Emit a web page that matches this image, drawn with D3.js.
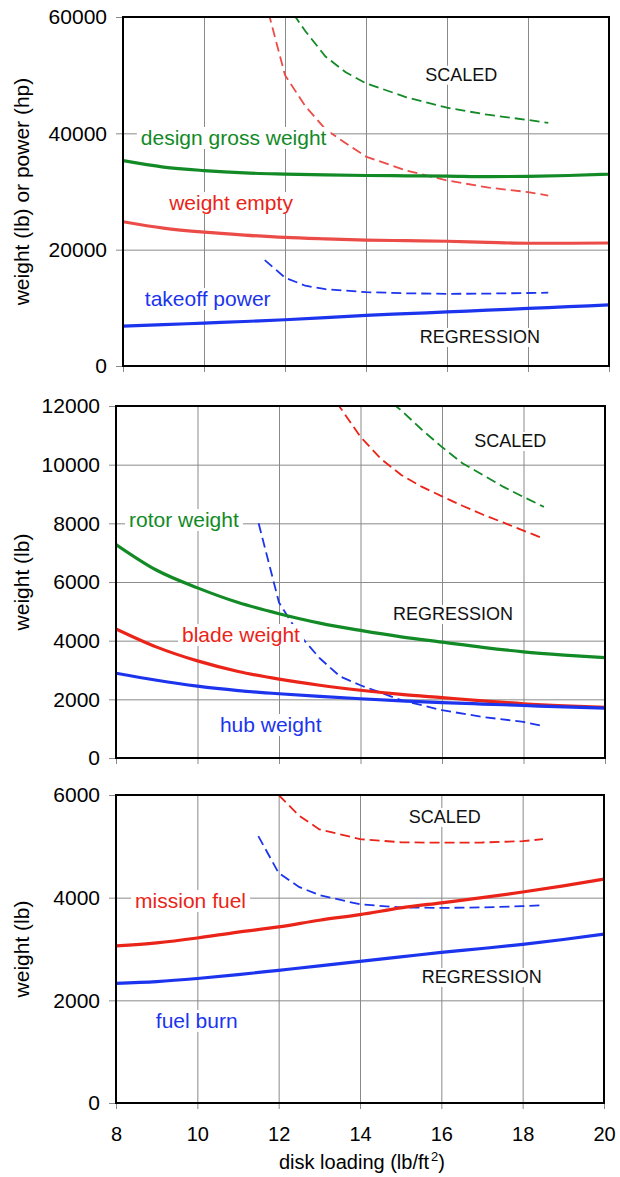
<!DOCTYPE html>
<html><head><meta charset="utf-8">
<script src="https://cdn.jsdelivr.net/npm/d3@7"></script>
<style>
body{margin:0;background:#fff}
text{font-family:"Liberation Sans",Arial,Helvetica,sans-serif}
</style></head>
<body><svg id="c" width="620" height="1177"></svg>
<script>
// ---------- data ----------
const diskLoading = [8,9,10,11,12,13,14,15,16,17,18,19,20];
const xTicks = [8,10,12,14,16,18,20];

// panel 1 : weight (lb) or power (hp)
const p1Ticks = [0,20000,40000,60000];
const grossWeightReg = [35300,34200,33600,33200,33000,32850,32750,32700,32650,32550,32600,32750,33000];
const emptyWeightReg = [24800,23700,23000,22500,22100,21850,21650,21550,21450,21250,21100,21100,21150];
const takeoffPowerReg = [6850,7100,7380,7650,7950,8300,8700,9000,9300,9600,9900,10200,10500];
const grossWeightScaledX = [12,12.5,13,13.5,14,15,16,17,18,18.5];
const grossWeightScaled = [62600,57600,53200,50500,48600,46200,44400,43200,42300,41800];
const emptyWeightScaledX = [11.5,12,12.5,13,13.5,14,15,16,17,18,18.5];
const emptyWeightScaled = [63200,50000,44700,40700,38300,36000,33600,31900,30700,29900,29300];
const takeoffPowerScaledX = [11.5,12,12.5,13,14,15,16,17,18,18.5];
const takeoffPowerScaled = [18200,15200,13800,13200,12700,12500,12400,12450,12550,12600];

// panel 2 : rotor weights (lb)
const p2Ticks = [0,2000,4000,6000,8000,10000,12000];
const rotorWeightReg = [7280,6400,5800,5300,4920,4600,4350,4130,3950,3770,3620,3510,3420];
const bladeWeightReg = [4400,3780,3310,2950,2690,2480,2310,2170,2060,1950,1850,1780,1730];
const hubWeightReg = [2890,2650,2450,2300,2190,2100,2020,1950,1890,1840,1790,1740,1700];
const rotorWeightScaledX = [14.5,15,15.5,16,16.5,17,17.5,18,18.5];
const rotorWeightScaled = [12400,11850,11200,10600,10050,9650,9250,8900,8560];
const bladeWeightScaledX = [13,13.5,14,14.5,15,15.5,16,16.5,17,17.5,18,18.5];
const bladeWeightScaled = [12970,11950,10950,10200,9650,9250,8920,8600,8300,8030,7750,7480];
const hubWeightScaledX = [11.5,12,12.5,13,13.5,14,15,16,17,18,18.5];
const hubWeightScaled = [8000,5300,4200,3400,2780,2480,1970,1630,1400,1230,1080];

// panel 3 : fuel (lb)
const p3Ticks = [0,2000,4000,6000];
const missionFuelReg = [3060,3120,3215,3330,3430,3560,3670,3800,3900,4000,4110,4230,4360];
const fuelBurnReg = [2330,2365,2425,2500,2585,2670,2760,2845,2935,3010,3090,3185,3290];
const missionFuelScaledX = [12,12.5,13,14,15,16,17,18,18.5];
const missionFuelScaled = [6000,5600,5330,5140,5080,5070,5075,5100,5140];
const fuelBurnScaledX = [11.5,12,12.5,13,14,15,16,17,18,18.5];
const fuelBurnScaled = [5200,4480,4210,4050,3870,3810,3800,3810,3835,3855];

// annotation texts, anchored in data units [x, y]
const p1Labels = [["design gross weight",8.44,38000,"green"],["weight empty",9.14,26820,"red"],["takeoff power",8.54,10310,"blue"],["SCALED",15.46,49050,"black"],["REGRESSION",15.33,3950,"black"]];
const p2Labels = [["rotor weight",8.32,7875,"green"],["blade weight",9.62,3955,"red"],["hub weight",10.55,886,"blue"],["SCALED",16.79,10600,"black"],["REGRESSION",14.8,4705,"black"]];
const p3Labels = [["mission fuel",8.47,3800,"red"],["fuel burn",8.98,1461,"blue"],["SCALED",15.2,5455,"black"],["REGRESSION",15.52,2338,"black"]];

// ---------- styles ----------
const COL = {green:"#128a26", red:"#ea2418", redLight:"#ec4c48", blue:"#1c34ee", black:"#111"};

const zipXY = (xs, ys) => xs.map((x,i)=>({x, y: ys[i]}));

const panels = [
  {box:{l:123,r:609,t:17,b:366}, yMax:60000, ticks:p1Ticks, title:"weight (lb) or power (hp)",
   reg:[[grossWeightReg,"green"],[emptyWeightReg,"redLight"],[takeoffPowerReg,"blue"]],
   scaled:[[grossWeightScaledX,grossWeightScaled,"green"],[emptyWeightScaledX,emptyWeightScaled,"redLight"],[takeoffPowerScaledX,takeoffPowerScaled,"blue"]],
   labels:p1Labels, xLabels:false},
  {box:{l:116,r:605,t:406,b:758}, yMax:12000, ticks:p2Ticks, title:"weight (lb)",
   reg:[[rotorWeightReg,"green"],[bladeWeightReg,"red"],[hubWeightReg,"blue"]],
   scaled:[[rotorWeightScaledX,rotorWeightScaled,"green"],[bladeWeightScaledX,bladeWeightScaled,"red"],[hubWeightScaledX,hubWeightScaled,"blue"]],
   labels:p2Labels, xLabels:false},
  {box:{l:116,r:604,t:795,b:1103}, yMax:6000, ticks:p3Ticks, title:"weight (lb)",
   reg:[[missionFuelReg,"red"],[fuelBurnReg,"blue"]],
   scaled:[[missionFuelScaledX,missionFuelScaled,"red"],[fuelBurnScaledX,fuelBurnScaled,"blue"]],
   labels:p3Labels, xLabels:true}
];

const svg = d3.select("#c");
const defs = svg.append("defs");

panels.forEach((p,pi)=>{
  const {l,r,t,b} = p.box;
  const x = d3.scaleLinear().domain([8,20]).range([l,r]);
  const y = d3.scaleLinear().domain([0,p.yMax]).range([b,t]);
  const g = svg.append("g");

  defs.append("clipPath").attr("id","clip"+pi)
    .append("rect").attr("x",l).attr("y",t).attr("width",r-l).attr("height",b-t);

  // horizontal grid + y tick labels
  const ya = g.append("g").attr("transform",`translate(${r},0)`)
    .call(d3.axisLeft(y).tickValues(p.ticks).tickSize(r-l+7).tickPadding(9).tickFormat(d3.format("d")));
  ya.select(".domain").remove();
  ya.selectAll("line").attr("stroke","#8a8a8a").attr("stroke-width",1);
  ya.selectAll("text").attr("font-size",21).attr("fill","#000");

  // vertical grid + x tick labels
  const xa = g.append("g").attr("transform",`translate(0,${t})`)
    .call(d3.axisBottom(x).tickValues(xTicks).tickSize(b-t+6).tickPadding(18)
      .tickFormat(p.xLabels ? d3.format("d") : ""));
  xa.select(".domain").remove();
  xa.selectAll("line").attr("stroke","#8a8a8a").attr("stroke-width",1);
  xa.selectAll("text").attr("font-size",20).attr("fill","#000");

  // y title
  g.append("text").attr("transform",`translate(29,${(t+b)/2}) rotate(-90)`)
    .attr("text-anchor","middle").attr("font-size",21).attr("fill","#000").text(p.title);

  const plot = g.append("g").attr("clip-path",`url(#clip${pi})`);

  const lineReg = d3.line().x(d=>x(d.x)).y(d=>y(d.y)).curve(d3.curveMonotoneX);
  const lineSc = d3.line().x(d=>x(d.x)).y(d=>y(d.y)).curve(d3.curveLinear);

  p.scaled.forEach(([xs,ys,c])=>{
    plot.append("path").datum(zipXY(xs,ys)).attr("d",lineSc)
      .attr("fill","none").attr("stroke",COL[c]).attr("stroke-width",1.8)
      .attr("stroke-dasharray","10,5");
  });
  p.reg.forEach(([ys,c])=>{
    plot.append("path").datum(zipXY(diskLoading,ys)).attr("d",lineReg)
      .attr("fill","none").attr("stroke",COL[c]).attr("stroke-width",3.2)
      .attr("stroke-linejoin","round");
  });

  // labels with white background
  p.labels.forEach(([txt,lx,ly,c])=>{
    const isBlack = c==="black";
    const lg = g.append("g");
    const tx = lg.append("text").attr("x",x(lx)).attr("y",y(ly))
      .attr("font-size", isBlack?18:21).attr("fill",COL[c]).text(txt);
    const bb = tx.node().getBBox();
    lg.insert("rect","text").attr("x",bb.x-4).attr("y",bb.y+1).attr("width",bb.width+8).attr("height",bb.height-1)
      .attr("fill","#fff");
  });

  // frame
  g.append("rect").attr("x",l).attr("y",t).attr("width",r-l).attr("height",b-t)
    .attr("fill","none").attr("stroke","#000").attr("stroke-width",2);
});

// x axis title
const xt = svg.append("text").attr("x",362).attr("y",1169).attr("text-anchor","middle")
  .attr("font-size",20).attr("fill","#000");
xt.append("tspan").text("disk loading (lb/ft");
xt.append("tspan").attr("font-size",13).attr("dy",-8).attr("dx",2).text("2");
xt.append("tspan").attr("dy",8).text(")");
</script>
</body></html>
